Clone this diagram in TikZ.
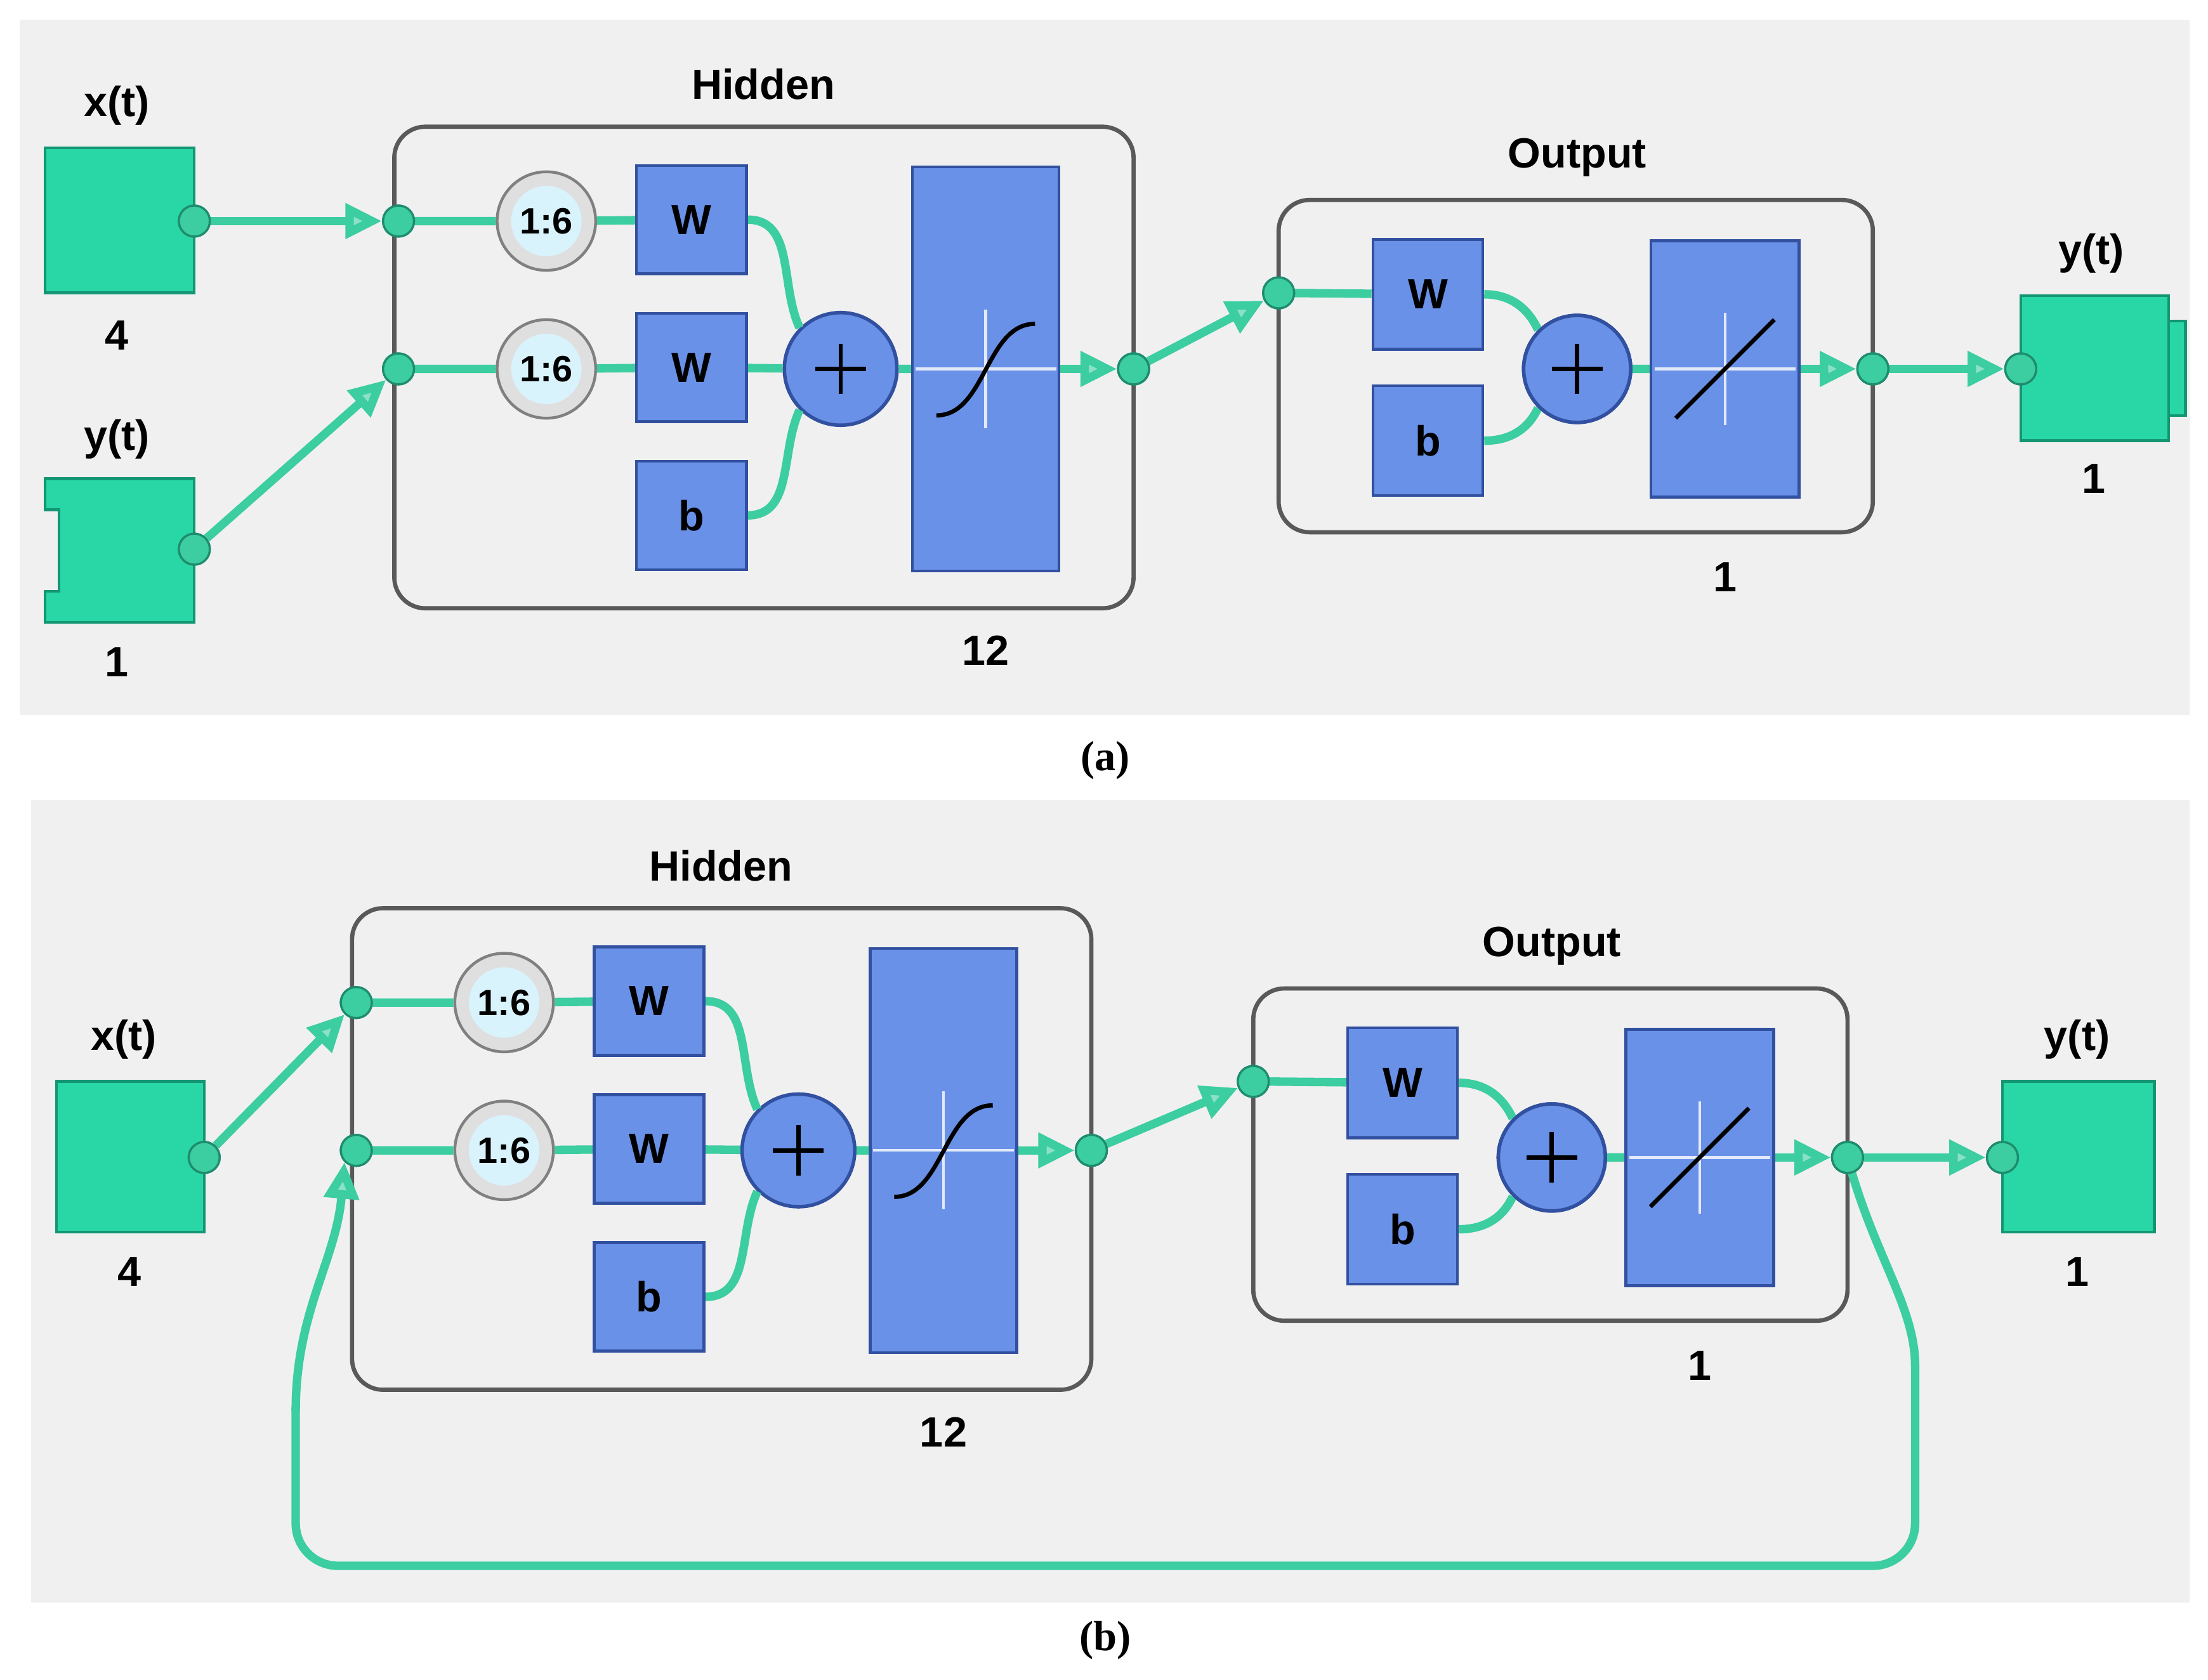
\documentclass[tikz,border=0pt]{standalone}
\usepackage{fontspec}
\setmainfont{Liberation Serif}
\newfontfamily\sansb{Liberation Sans}
\usetikzlibrary{arrows.meta}
\definecolor{bg}{RGB}{240,240,240}
\definecolor{tl}{RGB}{60,205,160}
\definecolor{tld}{RGB}{30,140,110}
\definecolor{gb}{RGB}{40,215,165}
\definecolor{gbd}{RGB}{20,150,115}
\definecolor{bb}{RGB}{105,145,232}
\definecolor{bbd}{RGB}{50,80,160}
\tikzset{
 x=1pt,y=-1pt,
 lbl/.style={font=\sansb\bfseries\fontsize{30}{30}\selectfont},
 wire/.style={draw=tl,line width=6pt},
 arr/.style={wire,-{Triangle[length=26pt,width=24pt,fill=tl!60]}},
 dot/.style={circle,minimum size=22pt,inner sep=0pt,fill=tl,draw=tld,line width=1.5pt},
 blk/.style={fill=bb,draw=bbd,line width=2pt,inner sep=0pt,font=\sansb\bfseries\fontsize{30}{30}\selectfont},
 grn/.style={fill=gb,draw=gbd,line width=2pt},
 frame/.style={rounded corners=22pt,draw=gray!70!black,line width=3pt,fill=bg},
 clk/.style={circle,minimum size=70pt,inner sep=0pt,fill=gray!25,draw=gray,line width=2pt,font=\sansb\bfseries\fontsize{26}{26}\selectfont},
 plus/.style={circle,minimum size=80pt,inner sep=0pt,fill=bb,draw=bbd,line width=2.5pt},
 hidden/.pic={
  \draw[frame] (0,0) rectangle (525,342);
  \node[lbl] (-title) at (262,-30) {Hidden};
  \node[lbl] (-n) at (420,372) {12};
  \node[clk] (-c1) at (108,67) {};
  \fill[cyan!15] (-c1) circle (25pt);
  \node[font=\sansb\bfseries\fontsize{26}{26}\selectfont] at (-c1) {1:6};
  \node[clk] (-c2) at (108,172) {};
  \fill[cyan!15] (-c2) circle (25pt);
  \node[font=\sansb\bfseries\fontsize{26}{26}\selectfont] at (-c2) {1:6};
  \node[blk,minimum width=78pt,minimum height=77pt] (-w1) at (211,66) {W};
  \node[blk,minimum width=78pt,minimum height=77pt] (-w2) at (211,171) {W};
  \node[blk,minimum width=78pt,minimum height=77pt] (-b) at (211,276) {b};
  \node[blk,minimum width=104pt,minimum height=287pt] (-f) at (420,172) {};
  \draw[white!80!bb,line width=2pt] (370,172)--(470,172) (420,130)--(420,214);
  \draw[black,line width=3pt] (385,205) .. controls (420,205) and (420,140) .. (455,140);
  \draw[wire] (0,67) -- (-c1) (-c1) -- (-w1) (0,172) -- (-c2) (-c2) -- (-w2);
  \node[plus] (-p) at (317,172) {};
  \draw[wire] (-w1.east) to[out=0,in=115] (-p.north west) (-w2) -- (-p) (-b.east) to[out=0,in=-115] (-p.south west) (-p) -- (-f);
  \draw[black,line width=3pt] (-p.center)+(-18,0) -- +(18,0) (-p.center)+(0,-18) -- +(0,18);
  \node[blk,minimum width=78pt,minimum height=77pt] at (211,66) {W};
  \node[blk,minimum width=78pt,minimum height=77pt] at (211,171) {W};
  \node[blk,minimum width=78pt,minimum height=77pt] at (211,276) {b};
  \node[dot] (-in1) at (3,67) {};
  \node[dot] (-in2) at (3,172) {};
  \node[dot] (-out) at (525,172) {};
  \draw[arr] (-f.east) -- (-out.west);
  \node[dot] at (-out) {};
 },
 outlayer/.pic={
  \draw[frame] (0,0) rectangle (422,236);
  \node[lbl] (-title) at (212,-30) {Output};
  \node[lbl] (-n) at (317,268) {1};
  \node[blk,minimum width=78pt,minimum height=78pt] (-w) at (106,67) {W};
  \node[blk,minimum width=78pt,minimum height=78pt] (-b) at (106,171) {b};
  \node[blk,minimum width=105pt,minimum height=182pt] (-f) at (317,120) {};
  \draw[white!80!bb,line width=2pt] (267,120)--(367,120) (317,80)--(317,160);
  \draw[black,line width=3pt] (282,155) -- (352,85);
  \node[plus,minimum size=76pt] (-p) at (212,120) {};
  \draw[wire] (0,66) -- (-w) (-w.east) to[out=0,in=115] (-p.north west) (-b.east) to[out=0,in=-115] (-p.south west) (-p) -- (-f);
  \node[plus,minimum size=76pt] at (212,120) {};
  \draw[black,line width=3pt] (-p.center)+(-18,0) -- +(18,0) (-p.center)+(0,-18) -- +(0,18);
  \node[blk,minimum width=78pt,minimum height=78pt] at (106,67) {W};
  \node[blk,minimum width=78pt,minimum height=78pt] at (106,171) {b};
  \node[dot] (-in) at (0,66) {};
  \node[dot] (-out) at (422,120) {};
  \draw[arr] (-f.east) -- (-out.west);
  \node[dot] at (-out) {};
 }
}
\begin{document}
\begin{tikzpicture}
\useasboundingbox[fill=white] (0,0) rectangle (1568,1193);
% panel a
\fill[bg] (14,14) rectangle (1555,508);
\node[font=\bfseries\fontsize{30}{30}\selectfont] (capa) at (785,540) {(a)};
\draw[grn] (32,105) rectangle (138,208);
\node[lbl] (xa) at (83,75) {x(t)};
\node[lbl] (xan) at (83,238) {4};
\draw[grn] (32,340) -- (138,340) -- (138,442) -- (32,442) -- (32,420) -- (42,420) -- (42,362) -- (32,362) -- cycle;
\node[lbl] (ya) at (83,312) {y(t)};
\node[lbl] (yan) at (83,470) {1};
\pic (ha) at (280,90) {hidden};
\pic (oa) at (908,142) {outlayer};
\draw[grn] (1435,210) rectangle (1540,313);
\draw[grn] (1540,228) rectangle (1552,295);
\node[lbl] (yo) at (1485,180) {y(t)};
\node[lbl] (yon) at (1487,340) {1};
\node[dot] (xao) at (138,157) {};
\node[dot] (yao) at (138,390) {};
\node[dot] (yoi) at (1435,262) {};
\draw[arr] (xao) -- (ha-in1);
\draw[arr] (yao) -- (ha-in2);
\draw[arr] (ha-out) -- (oa-in);
\draw[arr] (oa-out) -- (yoi);
\foreach \n in {xao,yao,yoi,ha-in1,ha-in2,ha-out,oa-in,oa-out} \node[dot] at (\n) {};
% panel b
\fill[bg] (22,568) rectangle (1555,1138);
\node[font=\bfseries\fontsize{30}{30}\selectfont] (capb) at (785,1165) {(b)};
\draw[grn] (40,768) rectangle (145,875);
\node[lbl] (xb) at (88,738) {x(t)};
\node[lbl] (xbn) at (92,903) {4};
\pic (hb) at (250,645) {hidden};
\pic (ob) at (890,702) {outlayer};
\draw[grn] (1422,768) rectangle (1530,875);
\node[lbl] (yb) at (1475,738) {y(t)};
\node[lbl] (ybn) at (1475,903) {1};
\node[dot] (xbo) at (145,822) {};
\node[dot] (ybi) at (1422,822) {};
\draw[arr] (xbo) -- (hb-in1);
\draw[arr] (hb-out) -- (ob-in);
\draw[arr] (ob-out) -- (ybi);
\draw[wire,rounded corners=30pt] (ob-out.center) to[out=-75,in=90] (1360,1000) -- (1360,1112) -- (210,1112) -- (210,1000);
\draw[arr] (210,1002) to[out=90,in=-95] (hb-in2.south west);
\foreach \n in {xbo,ybi,hb-in1,hb-in2,hb-out,ob-in,ob-out} \node[dot] at (\n) {};
\end{tikzpicture}
\end{document}
